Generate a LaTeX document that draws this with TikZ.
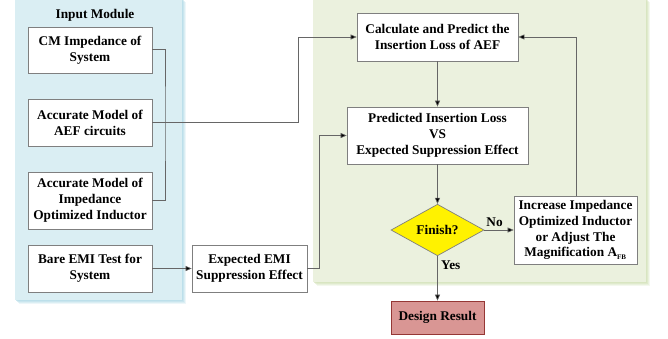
\documentclass[tikz,border=0pt]{standalone}
\usepackage{fontspec}
\setmainfont{Liberation Serif}
\usetikzlibrary{arrows.meta,shapes.geometric}
\definecolor{panelblue}{HTML}{DAEEF3}
\definecolor{shadeblue}{HTML}{B7DDE8}
\definecolor{panelgreen}{HTML}{EBF1DE}
\definecolor{shadegreen}{HTML}{D5E3BC}
\definecolor{boxline}{HTML}{7F7F7F}
\definecolor{resultfill}{HTML}{D99694}
\definecolor{resultline}{HTML}{953735}
\tikzset{
  txt/.style={font=\bfseries\fontsize{13.3}{15.8}\selectfont, align=center},
  stepbox/.style={txt, draw=boxline, fill=white, line width=0.7pt, inner sep=0pt},
  link/.style={draw=black!60, line width=0.6pt},
  arrowlink/.style={link, -{Triangle[length=6pt,width=5pt,fill=black]}},
}
\begin{document}
\begin{tikzpicture}[x=1pt,y=-1pt]
\useasboundingbox (0,0) rectangle (668,338);
% panels with soft shadows
\foreach \d/\o in {4/0.25,3/0.35,2/0.5,1/0.7}{
  \fill[shadeblue,opacity=\o] (15+\d,-2+\d) rectangle (182+\d,300+\d);
  \fill[shadegreen,opacity=\o] (313+\d,-2+\d) rectangle (646+\d,282+\d);
}
\fill[panelblue] (15,-2) rectangle (182,300);
\fill[panelgreen] (313,-2) rectangle (646,282);
\node[txt] (title) at (95,15) {Input Module};

% input boxes
\node[stepbox, minimum width=124pt, minimum height=46pt] (cm) at (90,50) {CM Impedance of\\System};
\node[stepbox, minimum width=124pt, minimum height=47pt] (aef) at (90,122.5) {Accurate Model of\\AEF circuits};
\node[stepbox, minimum width=124pt, minimum height=57pt] (ind) at (90,200.5) {Accurate Model of\\Impedance\\Optimized Inductor};
\node[stepbox, minimum width=124pt, minimum height=47pt] (bare) at (90,268.5) {Bare EMI Test for\\System};
\node[stepbox, minimum width=115pt, minimum height=47pt] (exp) at (249.5,268.5) {Expected EMI\\Suppression Effect};

% main flow
\node[stepbox, minimum width=161pt, minimum height=48pt] (calc) at (437.5,37) {Calculate and Predict the\\Insertion Loss of AEF};
\node[stepbox, minimum width=181pt, minimum height=57pt] (pred) at (437.5,135.5) {Predicted Insertion Loss\\VS\\Expected Suppression Effect};
\node[diamond, draw=boxline, fill=yellow, line width=0.7pt, minimum width=93pt, minimum height=46pt, inner sep=0pt, txt] (fin) at (437.5,230) {Finish?};
\node[stepbox, minimum width=123pt, minimum height=68pt] (inc) at (575.5,230) {Increase Impedance\\Optimized Inductor\\or Adjust The\\Magnification A\textsubscript{\scriptsize FB}};
\node[stepbox, draw=resultline, fill=resultfill, minimum width=93pt, minimum height=33pt] (res) at (437.5,317.5) {Design Result};

% connectors
\coordinate (j1) at (165,122.5);
\draw[link] (cm.east |- 0,49) -| (j1) |- (ind.east);
\draw[arrowlink] (aef.east) -- (298,122.5) |- (calc.west);
\draw[arrowlink] (bare.east) -- (exp.west);
\draw[arrowlink] (exp.east) -- (319,268.5) |- (pred.west);
\draw[arrowlink] (calc.south) -- (pred.north);
\draw[arrowlink] (pred.south) -- (fin.north);
\draw[arrowlink] (fin.east) -- node[txt, above, pos=0.35] {No} (inc.west);
\draw[arrowlink] (fin.south) -- node[txt, right, pos=0.2] {Yes} (res.north);
\draw[arrowlink] (inc.north -| 576,0) |- (calc.east);
\end{tikzpicture}
\end{document}
